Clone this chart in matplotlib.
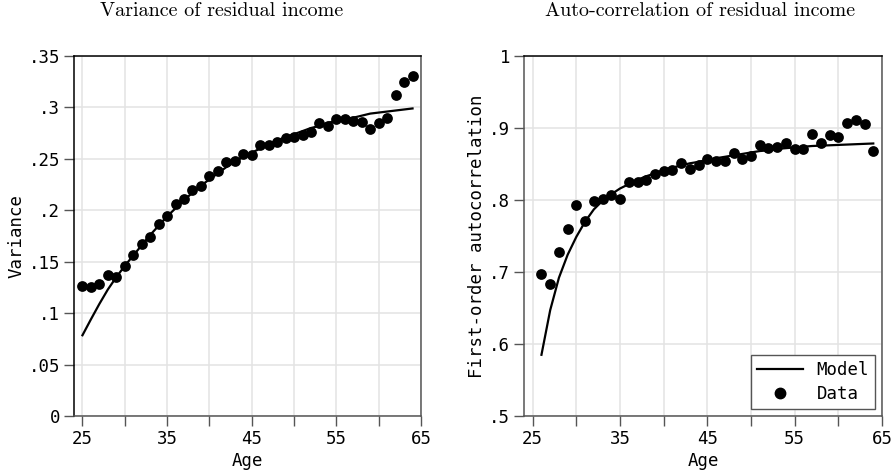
import matplotlib
matplotlib.use("Agg")
import matplotlib.pyplot as plt
from matplotlib.lines import Line2D

# ---------------- data ----------------
ages_var = list(range(25, 65))
var_data = [0.1265, 0.1255, 0.1284, 0.1370, 0.1347, 0.1463, 0.1564, 0.1668,
            0.1736, 0.1865, 0.1946, 0.2057, 0.2112, 0.2196, 0.2238, 0.2332,
            0.2384, 0.2466, 0.2478, 0.2546, 0.2534, 0.2637, 0.2631, 0.2663,
            0.2705, 0.2712, 0.2731, 0.2761, 0.2845, 0.2822, 0.2884, 0.2890,
            0.2868, 0.2861, 0.2793, 0.2851, 0.2900, 0.3121, 0.3250, 0.3308]
var_model = [0.0785, 0.094, 0.109, 0.123, 0.135, 0.146, 0.156, 0.166,
             0.176, 0.185, 0.194, 0.202, 0.210, 0.217, 0.224, 0.230,
             0.236, 0.242, 0.247, 0.252, 0.256, 0.260, 0.264, 0.268,
             0.271, 0.274, 0.277, 0.280, 0.282, 0.285, 0.287, 0.289,
             0.290, 0.292, 0.294, 0.295, 0.296, 0.297, 0.298, 0.299]

ages_ac = list(range(26, 65))
ac_data = [0.6974, 0.6835, 0.7271, 0.7591, 0.7933, 0.7702, 0.7989, 0.8017,
           0.8064, 0.8017, 0.8253, 0.8253, 0.8272, 0.8364, 0.8401, 0.8415,
           0.8517, 0.8430, 0.8485, 0.8564, 0.8540, 0.8540, 0.8647, 0.8564,
           0.8614, 0.8758, 0.8726, 0.8731, 0.8795, 0.8707, 0.8703, 0.8916,
           0.8795, 0.8902, 0.8879, 0.9073, 0.9110, 0.9050, 0.8685]
ac_model = [0.585, 0.647, 0.692, 0.724, 0.749, 0.770, 0.787, 0.799,
            0.808, 0.816, 0.822, 0.828, 0.833, 0.837, 0.842, 0.845,
            0.848, 0.851, 0.853, 0.856, 0.858, 0.860, 0.862, 0.864,
            0.866, 0.868, 0.869, 0.871, 0.872, 0.873, 0.874, 0.875,
            0.8755, 0.876, 0.8765, 0.877, 0.8775, 0.878, 0.8785]

xticks_major = [25, 35, 45, 55, 65]
xticks_minor = [30, 40, 50, 60]
var_yticks = [0, 0.05, 0.1, 0.15, 0.2, 0.25, 0.3, 0.35]
var_ylabels = ["0", ".05", ".1", ".15", ".2", ".25", ".3", ".35"]
ac_yticks = [0.5, 0.6, 0.7, 0.8, 0.9, 1.0]
ac_ylabels = [".5", ".6", ".7", ".8", ".9", "1"]

titles = ["Variance of residual income", "Auto-correlation of residual income"]

# ---------------- styling ----------------
W, H = 896, 474
MONO = "DejaVu Sans Mono"
FS = 12.5
GRID = "#e3e3e3"
DARK = "#555555"

fig = plt.figure(figsize=(W / 100, H / 100), dpi=100)


def make_ax(l, r, b, t):
    return fig.add_axes([l / W, 1 - b / H, (r - l) / W, (b - t) / H])


ax1 = make_ax(74, 421, 416, 56)
ax2 = make_ax(524, 882, 416, 56)


def style(ax, yticks, ylabels, ylim, ylabel, spine_cols):
    ax.set_xlim(24, 65)
    ax.set_ylim(*ylim)
    ax.set_xticks(xticks_major)
    ax.set_xticks(xticks_minor, minor=True)
    ax.set_xticklabels([str(v) for v in xticks_major], fontfamily=MONO, fontsize=FS)
    ax.set_yticks(yticks)
    ax.set_yticklabels(ylabels, fontfamily=MONO, fontsize=FS)
    ax.tick_params(axis="both", which="both", direction="out", length=7,
                   width=1, color=DARK, pad=3)
    ax.grid(True, which="both", color=GRID, linewidth=1.1)
    ax.set_axisbelow(True)
    for side, c in spine_cols.items():
        ax.spines[side].set_color(c)
        ax.spines[side].set_linewidth(1.1)
    ax.set_xlabel("Age", fontfamily=MONO, fontsize=FS, labelpad=3)
    ax.set_ylabel(ylabel, fontfamily=MONO, fontsize=FS, labelpad=2)


# left panel
ax1.plot(ages_var, var_model, color="black", lw=1.6, zorder=3)
ax1.scatter(ages_var, var_data, s=60, color="black", zorder=4, linewidths=0)
style(ax1, var_yticks, var_ylabels, (0, 0.35), "Variance",
      {"left": "black", "top": "black", "bottom": DARK, "right": DARK})

# right panel
ax2.plot(ages_ac, ac_model, color="black", lw=1.6, zorder=3)
ax2.scatter(ages_ac, ac_data, s=60, color="black", zorder=4, linewidths=0)
style(ax2, ac_yticks, ac_ylabels, (0.5, 1.0), "First-order autocorrelation",
      {"left": DARK, "top": "black", "bottom": DARK, "right": DARK})

handles = [Line2D([], [], color="black", lw=1.6),
           Line2D([], [], color="black", marker="o", ls="none", markersize=7.5)]
leg = ax2.legend(handles, ["Model", "Data"], loc="lower right",
                 prop={"family": MONO, "size": FS}, frameon=True, fancybox=False,
                 edgecolor=DARK, framealpha=1, borderaxespad=0.4,
                 handlelength=2.6, handletextpad=0.8, labelspacing=0.35,
                 borderpad=0.35)
leg.get_frame().set_linewidth(1.0)

fig.text(222 / W, 1 - 16 / H, titles[0], family="cmr10", fontsize=14.5,
         ha="center", va="baseline")
fig.text(700 / W, 1 - 16 / H, titles[1], family="cmr10", fontsize=14.5,
         ha="center", va="baseline")

fig.savefig("out.png", dpi=100)
